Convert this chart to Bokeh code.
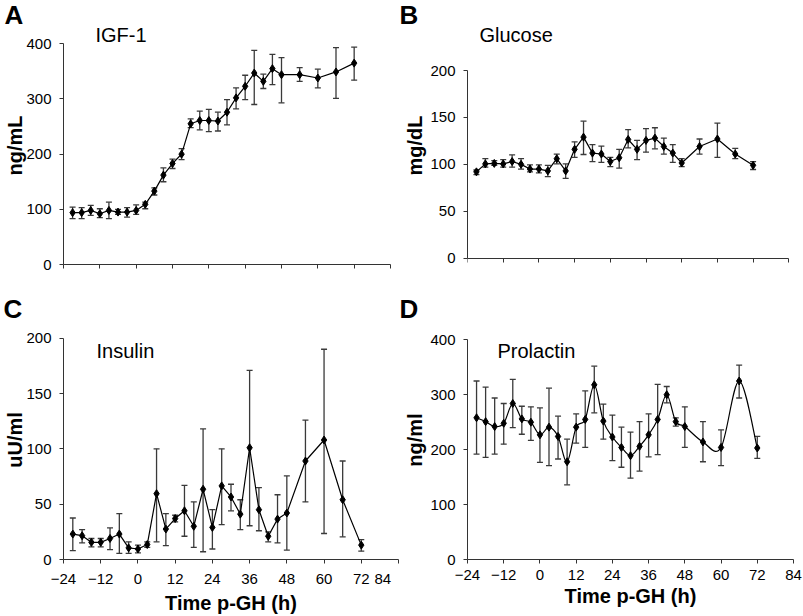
import math
from bokeh.plotting import figure
from bokeh.models import Range1d, Label, Whisker, TeeHead, ColumnDataSource, FixedTicker
from bokeh.layouts import row, column
from bokeh.embed import file_html
from bokeh.resources import INLINE

# ---------------- data ----------------
hours = [-21, -18, -15, -12, -9, -6, -3, 0, 3, 6, 9, 12, 15, 18, 21, 24, 27, 30,
         33, 36, 39, 42, 45, 48, 54, 60, 66, 72]
x_ticks = [-24, -12, 0, 12, 24, 36, 48, 60, 72, 84]

igf1 = [94, 94, 98, 92, 98, 95, 95, 98, 109, 133, 162, 183, 200, 255, 261, 261, 260, 276,
        302, 323, 347, 332, 355, 344, 344, 338, 349, 365]
igf1_lo = [83, 83, 89, 85, 83, 91, 86, 91, 101, 126, 150, 174, 190, 248, 244, 241, 242, 253,
           282, 299, 290, 319, 326, 293, 332, 320, 301, 334]
igf1_hi = [104, 103, 107, 101, 113, 100, 103, 108, 113, 139, 175, 191, 210, 264, 278, 281, 276, 299,
           320, 343, 388, 345, 381, 375, 357, 354, 393, 394]

glucose = [92, 100.5, 101, 100.5, 103, 100, 95, 95, 93, 106, 93, 116, 129, 112, 111, 103, 107, 126.5,
           116, 125.5, 128, 119, 112, 101.5, 119, 127, 111, 99]
glucose_lo = [89, 97, 99, 97, 97, 95, 92, 91, 87, 100.5, 85, 107.5, 110.5, 103, 102, 97.5, 96, 117.5,
              105, 113, 116.5, 111, 102, 97.5, 111, 107.5, 106, 94.5]
glucose_hi = [94, 106, 104, 105, 110, 106, 99.5, 99.5, 99, 111, 100.5, 124, 146, 121, 119.5, 107.5, 116, 137,
              125.5, 138, 139, 128, 121, 106, 127, 144, 117, 103]

insulin = [23, 21.5, 15.5, 15.5, 19, 23, 10.5, 9.5, 13.5, 59.5, 27.5, 37, 44, 30, 63.5, 29, 66.5, 56.5,
           41, 101, 45, 21, 36.5, 42, 89, 108, 54, 13]
insulin_lo = [8, 15, 11.5, 11.5, 9, 5.5, 5.5, 6, 11, 16, 12.5, 34, 21, 11, 7, 9.5, 31.5, 44,
              27, 30.5, 26, 16, 15, 8.5, 52, 23.5, 20.5, 7.5]
insulin_hi = [37.5, 27, 19, 19, 28.5, 41.5, 16, 13, 16, 100, 41.5, 40, 67, 52, 118, 45, 100, 68,
              54, 171, 65, 25, 58.5, 75.5, 126, 190, 89, 18]

prolactin = [258, 251, 242, 248, 284, 256, 250, 227, 241, 224, 178, 241, 255, 318, 252, 223, 204, 189,
             206, 227, 255, 300, 251, 242, 214, 204, 325, 203]
prolactin_lo = [192, 186, 192, 210, 240, 228, 217, 177, 171, 183, 136, 212, 204, 267, 219, 180, 168, 148,
                161, 187, 191, 285, 243, 204, 178, 171, 294, 184]
prolactin_hi = [325, 314, 294, 284, 328, 279, 278, 276, 312, 261, 219, 265, 307, 352, 283, 263, 241, 232,
                251, 265, 319, 315, 258, 278, 251, 236, 354, 224]

FONT = "Liberation Sans"
AXIS_COLOR = "#333333"
ERR_COLOR = "#3a3a3a"

# ---------------- layout geometry (pixels) ----------------
COL_W = (399, 404)           # canvas widths of left / right column
ROW_H = (285, 331)           # canvas heights of top / bottom row
FRAME_L = (63, 68)           # left border per column
FRAME_R = (1, 10)            # right border per column
FRAME_T = (26, 35)           # top border per row
FRAME_B = (21, 57)           # bottom border per row
COL_X = (0, COL_W[0])        # canvas left of each column on the page
ROW_Y = (0, ROW_H[0])        # canvas top of each row on the page


def make_panel(ci, ri, ymax, ystep, axis_px, x_axis_px_end, letter, letter_off,
               title, title_pos, ylab, ylab_standoff, show_xlabels,
               xlab_standoffs=None, x_fixed=False):
    """Pixel arguments are page coordinates. axis_px: (pixel of y=0 or None for
    frame bottom, pixel of y=ymax); x_axis_px_end: pixel where x=84 sits."""
    w, h = COL_W[ci], ROW_H[ri]
    ox, oy = COL_X[ci], ROW_Y[ri]
    fl, fr, ft, fb = FRAME_L[ci], FRAME_R[ci], FRAME_T[ri], FRAME_B[ri]
    frame_top, frame_bot = ft, h - fb
    frame_left, frame_right = fl, w - fr
    y0_px, ymax_px = axis_px
    y0_px = frame_bot if y0_px is None else y0_px - oy
    ymax_px -= oy
    upp_y = ymax / (y0_px - ymax_px)
    y_start = -(frame_bot - y0_px) * upp_y
    y_end = ymax + (ymax_px - frame_top) * upp_y
    x_px_end = x_axis_px_end - ox
    upp_x = 108 / (x_px_end - frame_left)
    x_end = 84 + (frame_right - x_px_end) * upp_x

    p = figure(width=w, height=h, x_range=Range1d(-24, x_end), y_range=Range1d(y_start, y_end),
               output_backend="svg", toolbar_location=None,
               min_border_left=fl, min_border_right=fr, min_border_top=ft, min_border_bottom=fb)
    p.outline_line_color = None
    p.xgrid.grid_line_color = None
    p.ygrid.grid_line_color = None

    p.title.text = letter
    p.title.align = "left"
    p.title.offset = letter_off
    p.title.text_font = FONT
    p.title.text_font_size = "26px"
    p.title.text_font_style = "bold"
    p.title.text_color = "black"
    p.title.standoff = -6

    for ax in (p.xaxis[0], p.yaxis[0]):
        ax.axis_line_color = AXIS_COLOR
        ax.axis_line_width = 1
        ax.major_tick_line_color = AXIS_COLOR
        ax.major_tick_in = 0
        ax.major_tick_out = 4
        ax.minor_tick_line_color = None
        ax.major_label_text_font = FONT
        ax.major_label_text_font_size = "15px"
        ax.major_label_text_color = "black"
        ax.axis_label_text_font = FONT
        ax.axis_label_text_font_size = "20px"
        ax.axis_label_text_font_style = "bold"
        ax.axis_label_text_color = "black"
    p.xaxis.ticker = FixedTicker(ticks=x_ticks)
    p.xaxis.bounds = (-24, 84)
    p.yaxis.ticker = FixedTicker(ticks=list(range(0, ymax + 1, ystep)))
    p.yaxis.bounds = (0, ymax)
    p.yaxis.major_label_standoff = 8
    p.yaxis.axis_label = ylab
    p.yaxis.axis_label_standoff = ylab_standoff
    if x_fixed:
        p.xaxis.fixed_location = 0
    if show_xlabels:
        p.xaxis.axis_label = "Time p-GH (h)"
        p.xaxis.major_label_standoff = xlab_standoffs[0]
        p.xaxis.axis_label_standoff = xlab_standoffs[1]
    else:
        p.xaxis.major_label_overrides = {t: "" for t in x_ticks}
        p.xaxis.major_label_text_font_size = "0px"
        p.xaxis.major_label_standoff = 0

    # panel name inside the frame (screen units relative to the frame)
    p.add_layout(Label(x=title_pos[0] - ox - frame_left, y=frame_bot - (title_pos[1] - oy),
                       x_units="screen", y_units="screen",
                       text=title, text_font=FONT, text_font_size="20px",
                       text_color="black", text_baseline="middle", text_align="left"))
    return p


def add_series(p, mean, lo, hi, smooth=False):
    src = ColumnDataSource(dict(x=hours, y=mean, lo=lo, hi=hi))
    p.add_layout(Whisker(source=src, base="x", lower="lo", upper="hi", dimension="height",
                         line_color=ERR_COLOR, line_width=1.3,
                         upper_head=TeeHead(size=6, line_color=ERR_COLOR, line_width=1.3),
                         lower_head=TeeHead(size=6, line_color=ERR_COLOR, line_width=1.3)))
    if smooth:
        # spreadsheet-like "smoothed line": Catmull-Rom segments drawn as Bezier curves
        n = len(hours)
        segs = dict(x0=[], y0=[], x1=[], y1=[], cx0=[], cy0=[], cx1=[], cy1=[])
        for i in range(n - 1):
            a = max(i - 1, 0)
            d = min(i + 2, n - 1)
            segs["x0"].append(hours[i]); segs["y0"].append(mean[i])
            segs["x1"].append(hours[i + 1]); segs["y1"].append(mean[i + 1])
            segs["cx0"].append(hours[i] + (hours[i + 1] - hours[a]) / 6)
            segs["cy0"].append(mean[i] + (mean[i + 1] - mean[a]) / 6)
            segs["cx1"].append(hours[i + 1] - (hours[d] - hours[i]) / 6)
            segs["cy1"].append(mean[i + 1] - (mean[d] - mean[i]) / 6)
        p.bezier(x0="x0", y0="y0", x1="x1", y1="y1", cx0="cx0", cy0="cy0", cx1="cx1", cy1="cy1",
                 source=ColumnDataSource(segs), line_color="black", line_width=1.2)
    else:
        p.line("x", "y", source=src, line_color="black", line_width=1.2)
    p.scatter("x", "y", source=src, marker="diamond", size=8, fill_color="black",
              line_color="black")


# Panel A
pA = make_panel(0, 0, 400, 100, (None, 43.3), 390, "A", -59,
                "IGF-1", (95, 34), "ng/mL", -3, False)
add_series(pA, igf1, igf1_lo, igf1_hi)

# Panel B
pB = make_panel(1, 0, 200, 50, (257.7, 70), 788.3, "B", -68,
                "Glucose", (479, 34), "mg/dL", 1, False, x_fixed=True)
add_series(pB, glucose, glucose_lo, glucose_hi)

# Panel C
pC = make_panel(0, 1, 200, 50, (None, 337.7), 398, "C", -60,
                "Insulin", (96, 350), "uU/ml", -3, True, xlab_standoffs=(6, 2))
pC.xaxis.major_label_overrides = {84: "84\u00a0\u00a0"}
add_series(pC, insulin, insulin_lo, insulin_hi)

# Panel D
pD = make_panel(1, 1, 400, 100, (None, 339.3), 793, "D", -68,
                "Prolactin", (497, 350), "ng/ml", 1, True, xlab_standoffs=(6, 2))
add_series(pD, prolactin, prolactin_lo, prolactin_hi, smooth=True)

layout = column(row(pA, pB), row(pC, pD))

open("out.html", "w").write(file_html(layout, INLINE))
